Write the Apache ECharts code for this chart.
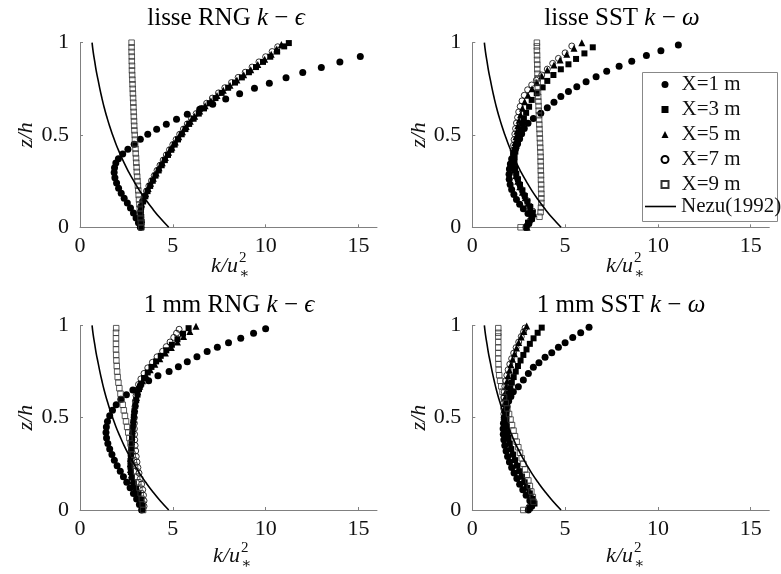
<!DOCTYPE html>
<html><head><meta charset="utf-8">
<script src="https://cdn.jsdelivr.net/npm/echarts@6/dist/echarts.min.js"></script>
<style>html,body{margin:0;padding:0;background:#fff}#c{width:781px;height:574px}</style>
</head><body><div id="c"></div>
<script>
// ---------------- DATA ----------------
const seriesNames = ['X=1 m', 'X=3 m', 'X=5 m', 'X=7 m', 'X=9 m'];
const lineName = 'Nezu(1992)';
const panelTitles = [['lisse RNG ', 'k', ' − ', 'ϵ'], ['lisse SST ', 'k', ' − ', 'ω'], ['1 mm RNG ', 'k', ' − ', 'ϵ'], ['1 mm SST ', 'k', ' − ', 'ω']];
const xTicks = [0, 5, 10, 15];
const yTicks = [0, 0.5, 1];

// Nezu (1992) reference curve: k/u*^2 versus z/h
const nezu_z = [0, 0.05, 0.1, 0.15, 0.2, 0.25, 0.3, 0.35, 0.4, 0.45, 0.5, 0.55, 0.6, 0.65, 0.7, 0.75, 0.8, 0.85, 0.9, 0.95, 1.0];
const nezu_k = [4.78, 4.32, 3.91, 3.54, 3.2, 2.9, 2.62, 2.37, 2.15, 1.94, 1.76, 1.59, 1.44, 1.3, 1.18, 1.07, 0.97, 0.87, 0.79, 0.71, 0.65];

// lisse RNG k-eps  [k/u*^2, z/h]
const tl_x1 = [[3.25,0.0],[3.15,0.025],[3.02,0.05],[2.88,0.077],[2.72,0.104],[2.55,0.131],[2.38,0.158],[2.22,0.185],[2.08,0.212],[1.97,0.24],[1.88,0.268],[1.84,0.297],[1.86,0.322],[1.93,0.348],[2.07,0.372],[2.3,0.397],[2.58,0.423],[2.92,0.45],[3.25,0.477],[3.65,0.504],[4.13,0.531],[4.65,0.558],[5.2,0.585],[5.78,0.613],[6.45,0.64],[7.15,0.667],[7.85,0.695],[8.6,0.724],[9.4,0.753],[10.2,0.781],[11.1,0.81],[12.0,0.838],[13.0,0.866],[14.0,0.895],[15.1,0.925]];
const tl_x3 = [[3.3,0.0],[3.32,0.028],[3.3,0.056],[3.28,0.084],[3.3,0.112],[3.4,0.14],[3.52,0.168],[3.64,0.196],[3.78,0.224],[3.92,0.252],[4.07,0.28],[4.24,0.308],[4.4,0.336],[4.57,0.364],[4.74,0.392],[4.92,0.42],[5.1,0.448],[5.28,0.476],[5.48,0.504],[5.68,0.532],[5.88,0.56],[6.12,0.588],[6.4,0.616],[6.68,0.644],[6.98,0.672],[7.3,0.7],[7.63,0.728],[7.98,0.756],[8.35,0.784],[8.72,0.812],[9.1,0.84],[9.48,0.868],[9.86,0.896],[10.25,0.924],[10.62,0.952],[11.0,0.98],[11.25,0.998]];
const tl_x5 = [[3.3,0.014],[3.3,0.042],[3.28,0.07],[3.27,0.098],[3.32,0.126],[3.42,0.154],[3.54,0.182],[3.67,0.21],[3.8,0.238],[3.95,0.266],[4.1,0.294],[4.26,0.322],[4.43,0.35],[4.6,0.378],[4.77,0.406],[4.95,0.434],[5.13,0.462],[5.32,0.49],[5.52,0.518],[5.72,0.546],[5.94,0.574],[6.18,0.602],[6.45,0.63],[6.74,0.658],[7.05,0.686],[7.38,0.714],[7.72,0.742],[8.08,0.77],[8.45,0.798],[8.82,0.826],[9.2,0.854],[9.58,0.882],[9.95,0.91],[10.3,0.938],[10.6,0.966],[10.85,0.99]];
const tl_x7 = [[3.28,0.0],[3.3,0.028],[3.27,0.056],[3.25,0.084],[3.27,0.112],[3.35,0.14],[3.46,0.168],[3.58,0.196],[3.71,0.224],[3.85,0.252],[4.0,0.28],[4.15,0.308],[4.31,0.336],[4.48,0.364],[4.65,0.392],[4.82,0.42],[5.0,0.448],[5.18,0.476],[5.37,0.504],[5.57,0.532],[5.78,0.56],[6.0,0.588],[6.26,0.616],[6.53,0.644],[6.82,0.672],[7.13,0.7],[7.46,0.728],[7.8,0.756],[8.16,0.784],[8.52,0.812],[8.9,0.84],[9.27,0.868],[9.64,0.896],[10.0,0.924],[10.35,0.952],[10.65,0.978]];
const tl_x9 = [[3.3,0.0],[3.28,0.025],[3.26,0.05],[3.24,0.075],[3.22,0.1],[3.2,0.125],[3.18,0.15],[3.16,0.175],[3.14,0.2],[3.12,0.225],[3.1,0.25],[3.08,0.275],[3.06,0.3],[3.05,0.325],[3.03,0.35],[3.02,0.375],[3.0,0.4],[2.99,0.425],[2.97,0.45],[2.96,0.475],[2.95,0.5],[2.93,0.525],[2.92,0.55],[2.91,0.575],[2.9,0.6],[2.89,0.625],[2.88,0.65],[2.87,0.675],[2.86,0.7],[2.85,0.725],[2.84,0.75],[2.83,0.775],[2.82,0.8],[2.81,0.825],[2.8,0.85],[2.8,0.875],[2.79,0.9],[2.79,0.925],[2.78,0.95],[2.78,0.975],[2.78,1.0]];

// lisse SST k-omega
const tr_x1 = [[2.9,0.0],[3.05,0.02],[3.2,0.045],[3.0,0.075],[2.75,0.1],[2.55,0.125],[2.38,0.15],[2.24,0.178],[2.12,0.205],[2.04,0.232],[1.99,0.26],[1.98,0.288],[2.0,0.316],[2.05,0.343],[2.12,0.37],[2.22,0.398],[2.33,0.425],[2.44,0.452],[2.55,0.48],[2.66,0.507],[2.8,0.535],[3.0,0.563],[3.29,0.59],[3.69,0.618],[4.04,0.647],[4.4,0.678],[4.77,0.708],[5.18,0.735],[5.63,0.762],[6.13,0.789],[6.67,0.816],[7.24,0.845],[7.91,0.873],[8.59,0.9],[9.38,0.93],[10.16,0.957],[11.1,0.988]];
const tr_x3 = [[2.9,0.0],[3.0,0.025],[3.2,0.05],[3.25,0.08],[3.12,0.11],[2.97,0.14],[2.83,0.17],[2.7,0.2],[2.57,0.23],[2.46,0.26],[2.37,0.29],[2.3,0.32],[2.27,0.35],[2.28,0.38],[2.32,0.41],[2.38,0.44],[2.45,0.47],[2.52,0.5],[2.6,0.53],[2.68,0.56],[2.78,0.59],[2.9,0.62],[3.06,0.653],[3.2,0.69],[3.47,0.726],[3.79,0.758],[4.04,0.793],[4.37,0.825],[4.77,0.856],[5.18,0.883],[5.59,0.912],[6.04,0.942],[6.49,0.975]];
const tr_x5 = [[2.95,0.0],[3.0,0.025],[3.2,0.05],[3.3,0.075],[3.15,0.1],[3.0,0.13],[2.85,0.16],[2.7,0.19],[2.56,0.22],[2.45,0.25],[2.35,0.28],[2.27,0.31],[2.22,0.34],[2.2,0.37],[2.22,0.4],[2.25,0.43],[2.3,0.46],[2.35,0.49],[2.4,0.52],[2.45,0.55],[2.52,0.58],[2.6,0.61],[2.7,0.645],[2.82,0.68],[3.0,0.715],[3.22,0.75],[3.47,0.785],[3.74,0.82],[4.04,0.852],[4.4,0.879],[4.73,0.906],[5.09,0.938],[5.48,0.97],[5.9,1.0]];
const tr_x7 = [[2.95,0.01],[3.1,0.035],[3.25,0.06],[3.25,0.088],[3.1,0.115],[2.95,0.145],[2.8,0.175],[2.66,0.205],[2.53,0.235],[2.42,0.265],[2.33,0.295],[2.26,0.325],[2.22,0.355],[2.2,0.385],[2.2,0.415],[2.22,0.445],[2.25,0.475],[2.29,0.505],[2.33,0.535],[2.38,0.565],[2.44,0.595],[2.5,0.625],[2.58,0.655],[2.68,0.685],[2.8,0.715],[2.98,0.745],[3.2,0.771],[3.45,0.797],[3.74,0.825],[4.04,0.857],[4.33,0.888],[4.64,0.915],[5.0,0.945],[5.36,0.982]];
const tr_x9 = [[2.6,0.0],[3.62,0.057],[3.68,0.082],[3.7,0.107],[3.72,0.132],[3.72,0.157],[3.72,0.182],[3.71,0.207],[3.71,0.232],[3.7,0.257],[3.7,0.282],[3.69,0.307],[3.69,0.332],[3.68,0.357],[3.68,0.382],[3.67,0.407],[3.66,0.432],[3.65,0.457],[3.64,0.482],[3.63,0.507],[3.62,0.532],[3.61,0.557],[3.6,0.582],[3.59,0.607],[3.58,0.632],[3.57,0.657],[3.56,0.682],[3.55,0.707],[3.54,0.732],[3.53,0.757],[3.52,0.782],[3.52,0.807],[3.51,0.832],[3.5,0.857],[3.5,0.882],[3.49,0.907],[3.49,0.932],[3.48,0.957],[3.48,0.98],[3.48,1.0]];

// 1 mm RNG k-eps
const bl_x1 = [[3.32,0.0],[3.2,0.03],[3.05,0.06],[2.88,0.09],[2.7,0.12],[2.52,0.15],[2.34,0.18],[2.17,0.21],[2.0,0.24],[1.85,0.27],[1.72,0.3],[1.6,0.33],[1.5,0.36],[1.43,0.39],[1.4,0.42],[1.42,0.45],[1.48,0.48],[1.6,0.51],[1.75,0.54],[1.95,0.57],[2.2,0.6],[2.5,0.625],[2.85,0.65],[3.25,0.675],[3.7,0.7],[4.2,0.727],[4.8,0.75],[5.3,0.776],[5.78,0.803],[6.3,0.83],[6.85,0.858],[7.4,0.881],[8.0,0.906],[8.66,0.93],[9.35,0.957],[10.0,0.982]];
const bl_x3 = [[3.35,0.0],[3.35,0.025],[3.28,0.055],[3.15,0.085],[3.02,0.115],[2.9,0.145],[2.8,0.175],[2.74,0.205],[2.72,0.235],[2.72,0.265],[2.74,0.295],[2.76,0.325],[2.78,0.355],[2.8,0.385],[2.82,0.415],[2.84,0.445],[2.87,0.475],[2.9,0.505],[2.93,0.535],[2.98,0.565],[3.03,0.595],[3.1,0.625],[3.18,0.655],[3.3,0.685],[3.45,0.715],[3.65,0.745],[3.85,0.775],[4.1,0.805],[4.35,0.835],[4.65,0.865],[4.95,0.895],[5.25,0.925],[5.55,0.955],[5.85,0.985]];
const bl_x5 = [[3.38,0.012],[3.33,0.04],[3.22,0.07],[3.08,0.1],[2.95,0.13],[2.84,0.16],[2.76,0.19],[2.72,0.22],[2.71,0.25],[2.72,0.28],[2.74,0.31],[2.76,0.34],[2.78,0.37],[2.8,0.4],[2.82,0.43],[2.85,0.46],[2.88,0.49],[2.91,0.52],[2.95,0.55],[2.99,0.58],[3.04,0.61],[3.11,0.64],[3.22,0.67],[3.37,0.7],[3.56,0.73],[3.78,0.76],[4.03,0.79],[4.3,0.82],[4.6,0.85],[4.92,0.88],[5.25,0.91],[5.58,0.94],[5.92,0.967],[6.25,0.995]];
const bl_x7 = [[3.45,0.02],[3.45,0.05],[3.42,0.08],[3.38,0.11],[3.32,0.14],[3.25,0.17],[3.18,0.2],[3.12,0.23],[3.07,0.26],[3.03,0.29],[3.0,0.32],[2.97,0.35],[2.95,0.38],[2.94,0.41],[2.93,0.44],[2.93,0.47],[2.93,0.5],[2.94,0.53],[2.96,0.56],[2.98,0.59],[3.02,0.62],[3.07,0.65],[3.15,0.68],[3.28,0.71],[3.45,0.74],[3.65,0.77],[3.9,0.8],[4.15,0.83],[4.45,0.86],[4.65,0.885],[4.85,0.91],[5.05,0.935],[5.2,0.958],[5.34,0.979]];
const bl_x9 = [[3.4,0.0],[3.38,0.03],[3.33,0.06],[3.27,0.09],[3.2,0.12],[3.14,0.15],[3.08,0.18],[3.02,0.21],[2.96,0.24],[2.9,0.27],[2.84,0.3],[2.78,0.33],[2.72,0.36],[2.66,0.39],[2.6,0.42],[2.54,0.45],[2.48,0.48],[2.42,0.51],[2.36,0.54],[2.3,0.57],[2.24,0.6],[2.18,0.63],[2.12,0.66],[2.07,0.69],[2.03,0.72],[2.0,0.75],[1.98,0.78],[1.96,0.81],[1.95,0.84],[1.94,0.87],[1.94,0.9],[1.94,0.93],[1.94,0.96],[1.95,0.985]];

// 1 mm SST k-omega
const br_x1 = [[3.02,0.0],[3.2,0.02],[3.1,0.05],[2.9,0.08],[2.72,0.11],[2.55,0.14],[2.4,0.17],[2.25,0.2],[2.12,0.23],[2.0,0.26],[1.9,0.29],[1.82,0.32],[1.75,0.35],[1.7,0.38],[1.67,0.41],[1.66,0.44],[1.68,0.47],[1.72,0.5],[1.78,0.53],[1.86,0.56],[1.96,0.59],[2.08,0.615],[2.21,0.64],[2.48,0.668],[2.75,0.704],[3.02,0.74],[3.29,0.773],[3.59,0.798],[3.92,0.827],[4.28,0.852],[4.64,0.881],[5.0,0.906],[5.41,0.935],[5.84,0.96],[6.29,0.99]];
const br_x3 = [[3.1,0.01],[3.35,0.035],[3.25,0.06],[3.1,0.09],[2.96,0.12],[2.82,0.15],[2.68,0.18],[2.55,0.21],[2.42,0.24],[2.3,0.27],[2.2,0.3],[2.1,0.33],[2.02,0.36],[1.95,0.39],[1.9,0.42],[1.86,0.45],[1.84,0.48],[1.84,0.51],[1.85,0.54],[1.88,0.57],[1.92,0.6],[1.98,0.63],[2.05,0.66],[2.13,0.69],[2.23,0.72],[2.34,0.75],[2.46,0.78],[2.6,0.81],[2.75,0.84],[2.92,0.87],[3.1,0.9],[3.3,0.93],[3.52,0.96],[3.74,0.988]];
const br_x5 = [[3.0,0.012],[3.3,0.04],[3.15,0.067],[3.0,0.097],[2.86,0.127],[2.72,0.157],[2.58,0.187],[2.45,0.217],[2.33,0.247],[2.22,0.277],[2.12,0.307],[2.03,0.337],[1.95,0.367],[1.88,0.397],[1.82,0.427],[1.77,0.457],[1.74,0.487],[1.72,0.517],[1.72,0.547],[1.73,0.577],[1.75,0.607],[1.78,0.637],[1.82,0.667],[1.87,0.697],[1.93,0.727],[2.0,0.757],[2.08,0.787],[2.17,0.817],[2.27,0.847],[2.38,0.877],[2.5,0.907],[2.63,0.937],[2.78,0.967],[2.93,0.997]];
const br_x7 = [[3.05,0.015],[3.28,0.04],[3.15,0.07],[3.0,0.1],[2.85,0.13],[2.7,0.16],[2.56,0.19],[2.43,0.22],[2.31,0.25],[2.2,0.28],[2.1,0.31],[2.0,0.34],[1.92,0.37],[1.85,0.4],[1.8,0.43],[1.76,0.46],[1.72,0.49],[1.7,0.52],[1.69,0.55],[1.69,0.58],[1.7,0.61],[1.72,0.64],[1.75,0.67],[1.8,0.7],[1.86,0.73],[1.93,0.76],[2.02,0.79],[2.12,0.82],[2.23,0.85],[2.36,0.88],[2.5,0.91],[2.64,0.94],[2.76,0.965],[2.84,0.986]];
const br_x9 = [[2.75,0.0],[3.3,0.045],[3.26,0.07],[3.18,0.1],[3.1,0.13],[3.02,0.16],[2.93,0.19],[2.84,0.22],[2.75,0.25],[2.66,0.28],[2.57,0.31],[2.48,0.34],[2.39,0.37],[2.3,0.4],[2.22,0.43],[2.14,0.46],[2.06,0.49],[1.98,0.52],[1.89,0.55],[1.8,0.58],[1.71,0.61],[1.63,0.64],[1.56,0.67],[1.5,0.7],[1.45,0.73],[1.42,0.76],[1.41,0.79],[1.4,0.82],[1.4,0.85],[1.4,0.88],[1.4,0.91],[1.4,0.94],[1.4,0.96],[1.4,0.985]];

const panelData = [
  [tl_x1, tl_x3, tl_x5, tl_x7, tl_x9],
  [tr_x1, tr_x3, tr_x5, tr_x7, tr_x9],
  [bl_x1, bl_x3, bl_x5, bl_x7, bl_x9],
  [br_x1, br_x3, br_x5, br_x7, br_x9]
];

// ---------------- LAYOUT / STYLE ----------------
const FONT = "'Liberation Serif', 'DejaVu Serif', serif";
const AXIS_GREY = '#808080';
const grids = [
  {left: 80, top: 42.7, width: 297, height: 184.6},
  {left: 472.3, top: 42.7, width: 297, height: 184.6},
  {left: 80, top: 325.4, width: 297, height: 184.6},
  {left: 472.3, top: 325.4, width: 297, height: 184.6}
];
const titlePos = [[226, 6], [622, 6], [229, 293], [621, 293]];
const xNamePos = [[238, 266], [633, 266], [240, 556], [633, 556]];
const HOLLOW = 'rgba(255,255,255,0)';
const markerStyles = [
  {symbol: 'circle', symbolSize: 7, itemStyle: {color: '#000', opacity: 1}},
  {symbol: 'rect', symbolSize: 6, itemStyle: {color: '#000', opacity: 1}},
  {symbol: 'triangle', symbolSize: 7, itemStyle: {color: '#000', opacity: 1}},
  {symbol: 'circle', symbolSize: 6, itemStyle: {color: HOLLOW, borderColor: '#000', borderWidth: 0.8, opacity: 1}},
  {symbol: 'rect', symbolSize: 5.5, itemStyle: {color: HOLLOW, borderColor: '#333', borderWidth: 0.8, opacity: 1}}
];

const chart = echarts.init(document.getElementById('c'), null, {renderer: 'canvas'});

const xAxes = [], yAxes = [], series = [], titles = [], graphics = [];
grids.forEach((g, i) => {
  xAxes.push({
    type: 'value', gridIndex: i, min: 0, max: 16, interval: 5,
    axisLine: {show: true, onZero: false, lineStyle: {color: AXIS_GREY, width: 1}},
    axisTick: {show: true, inside: true, length: 3, lineStyle: {color: AXIS_GREY}},
    axisLabel: {fontSize: 22, fontFamily: FONT, color: '#111', margin: 8, showMaxLabel: false,
      formatter: v => xTicks.includes(v) ? String(v) : ''},
    splitLine: {show: false}
  });
  yAxes.push({
    type: 'value', gridIndex: i, min: 0, max: 1, interval: 0.5,
    name: 'z/h', nameLocation: 'middle', nameGap: 40, nameRotate: 90,
    nameTextStyle: {fontSize: 22, fontFamily: FONT, fontStyle: 'italic', color: '#111'},
    axisLine: {show: true, onZero: false, lineStyle: {color: AXIS_GREY, width: 1}},
    axisTick: {show: true, inside: true, length: 3, lineStyle: {color: AXIS_GREY}},
    axisLabel: {fontSize: 22, fontFamily: FONT, color: '#111', margin: 11,
      formatter: v => yTicks.includes(v) ? String(v) : ''},
    splitLine: {show: false}
  });
  const t = panelTitles[i];
  titles.push({
    text: '{n|' + t[0] + '}{i|' + t[1] + '}{n|' + t[2] + '}{i|' + t[3] + '}',
    left: titlePos[i][0], top: titlePos[i][1], textAlign: 'center', padding: 0,
    textStyle: {fontWeight: 'normal', rich: {
      n: {fontSize: 25, fontFamily: FONT, fontWeight: 'normal', color: '#000'},
      i: {fontSize: 25, fontFamily: FONT, fontWeight: 'normal', fontStyle: 'italic', color: '#000'}
    }}
  });
  panelData[i].forEach((d, s) => {
    series.push(Object.assign({
      type: 'scatter', name: seriesNames[s], xAxisIndex: i, yAxisIndex: i,
      data: d, animation: false, emphasis: {disabled: true}
    }, JSON.parse(JSON.stringify(markerStyles[s]))));
  });
  series.push({
    type: 'line', name: lineName, xAxisIndex: i, yAxisIndex: i, smooth: true,
    symbol: 'none', showSymbol: false, data: nezu_z.map((z, j) => [nezu_k[j], z]),
    lineStyle: {color: '#000', width: 1.6}, itemStyle: {color: '#000'},
    animation: false, emphasis: {disabled: true}
  });
  const [nx, ny] = xNamePos[i];
  graphics.push(
    {type: 'text', x: nx, y: ny, style: {text: 'k/u', font: 'italic 22px ' + FONT, fill: '#111', textAlign: 'right', textVerticalAlign: 'middle'}},
    {type: 'text', x: nx + 1, y: ny - 8, style: {text: '2', font: '15px ' + FONT, fill: '#111', textAlign: 'left', textVerticalAlign: 'middle'}},
    {type: 'text', x: nx + 1, y: ny + 8, style: {text: '∗', font: '15px ' + FONT, fill: '#111', textAlign: 'left', textVerticalAlign: 'middle'}}
  );
});

graphics.push({type: 'rect', z: 3, shape: {x: 642.5, y: 72.5, width: 135, height: 149},
  style: {fill: '#fff', stroke: '#888', lineWidth: 1}});

const legendText = {fontSize: 21, lineHeight: 20, fontFamily: FONT, color: '#111'};
chart.setOption({
  animation: false,
  backgroundColor: '#fff',
  title: titles,
  grid: grids,
  xAxis: xAxes,
  yAxis: yAxes,
  legend: [
    {data: seriesNames, orient: 'vertical', left: 660.5, top: 74, padding: 0, itemWidth: 7, itemHeight: 7, itemGap: 4,
      selectedMode: false, z: 5, textStyle: Object.assign({padding: [0, 0, 0, 8]}, legendText)},
    {data: [{name: lineName, icon: 'rect'}], orient: 'vertical', left: 645, top: 196, padding: 0, itemWidth: 31, itemHeight: 1.6,
      selectedMode: false, z: 5, textStyle: Object.assign({padding: [0, 0, 0, 0]}, legendText)}
  ],
  graphic: graphics,
  series: series
});
</script></body></html>
